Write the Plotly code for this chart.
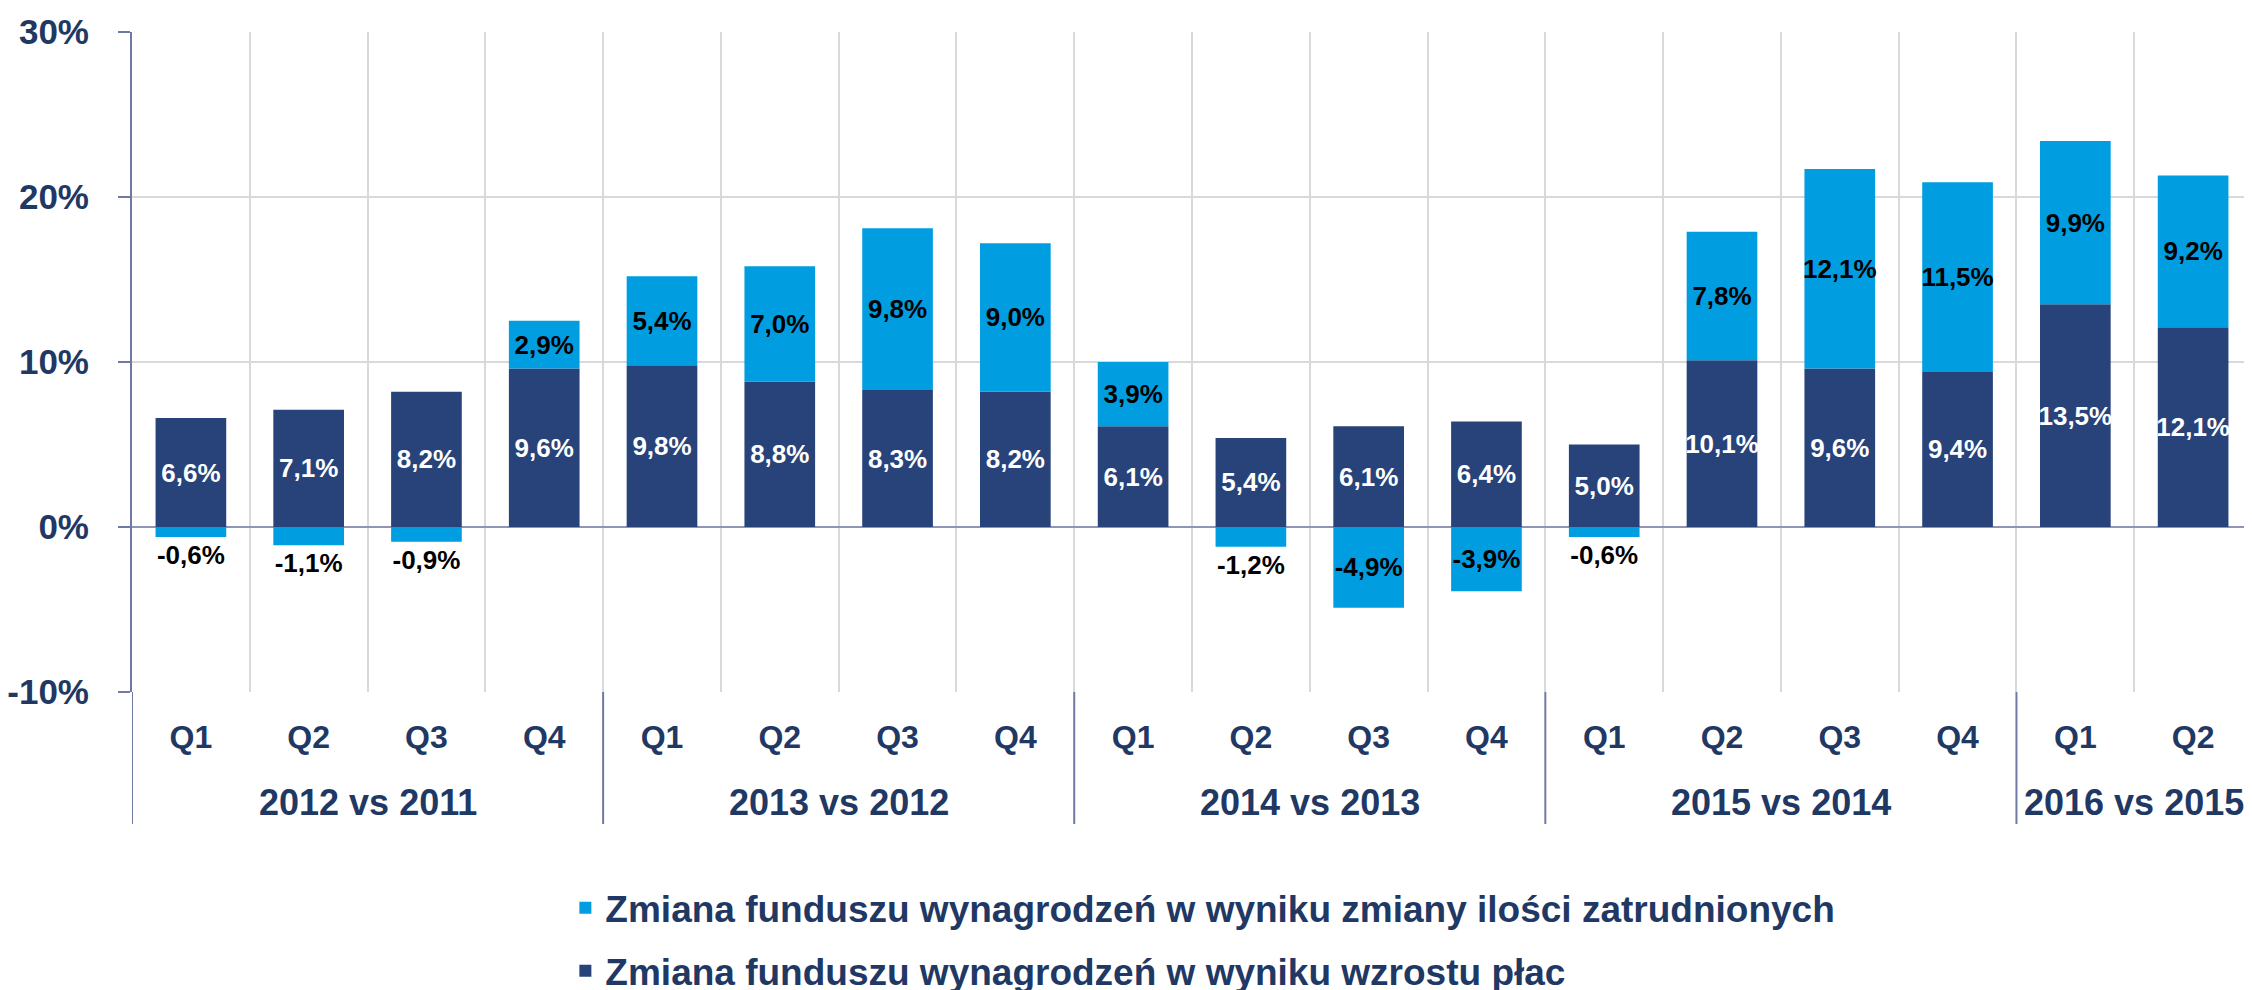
import plotly.graph_objects as go

years = ["2012 vs 2011"] * 4 + ["2013 vs 2012"] * 4 + ["2014 vs 2013"] * 4 + ["2015 vs 2014"] * 4 + ["2016 vs 2015"] * 2
quarters = ["Q1", "Q2", "Q3", "Q4"] * 4 + ["Q1", "Q2"]

wage_growth = [6.6, 7.1, 8.2, 9.6, 9.8, 8.8, 8.3, 8.2, 6.1, 5.4, 6.1, 6.4, 5.0, 10.1, 9.6, 9.4, 13.5, 12.1]
employment_change = [-0.6, -1.1, -0.9, 2.9, 5.4, 7.0, 9.8, 9.0, 3.9, -1.2, -4.9, -3.9, -0.6, 7.8, 12.1, 11.5, 9.9, 9.2]

y_ticks = [-10, 0, 10, 20, 30]

name_wage = "Zmiana funduszu wynagrodzeń w wyniku wzrostu płac"
name_empl = "Zmiana funduszu wynagrodzeń w wyniku zmiany ilości zatrudnionych"

dark = "#27437A"
light = "#009EE0"
navy_text = "#1F3864"
axis_col = "#6E7AA3"
grid_col = "#D9D9D9"
font_family = "Liberation Sans, Arial, sans-serif"


def fmt(v):
    return f"{v:.1f}".replace(".", ",") + "%"


idx = list(range(len(quarters)))

fig = go.Figure()
fig.add_trace(go.Bar(
    x=idx, y=wage_growth, name=name_wage,
    marker=dict(color=dark, line=dict(width=0)),
    text=[fmt(v) for v in wage_growth], textposition="inside",
    insidetextanchor="middle", textangle=0, constraintext="none",
    textfont=dict(family=font_family, size=26, color="white", weight="bold"),
    legendgroup="b", legendrank=2,
))
fig.add_trace(go.Bar(
    x=idx, y=employment_change, name=name_empl,
    marker=dict(color=light, line=dict(width=0)),
    text=[fmt(v) for v in employment_change],
    textposition=["outside" if -2 < v < 0 else "inside" for v in employment_change],
    insidetextanchor="middle", textangle=0, constraintext="none", cliponaxis=False,
    textfont=dict(family=font_family, size=26, color="black", weight="bold"),
    legendgroup="a", legendrank=1,
))

# year group labels and dividers below the quarter labels
groups = []
for i, yr in enumerate(years):
    if not groups or groups[-1][0] != yr:
        groups.append([yr, i, i])
    else:
        groups[-1][2] = i

for yr, first, last in groups:
    fig.add_annotation(
        x=(first + last) / 2, y=-0.167, xref="x", yref="paper",
        text=yr, showarrow=False, yanchor="middle",
        font=dict(family=font_family, size=36, color=navy_text, weight="bold"),
    )
    fig.add_shape(
        type="line", xref="x", yref="paper",
        x0=first - 0.5, x1=first - 0.5, y0=0, y1=-0.2,
        line=dict(color=axis_col, width=2),
    )

# page body has an 8px margin, so the figure is shifted left/up by that much
fig.update_layout(
    barmode="relative",
    bargap=0.4,
    width=2252, height=990,
    paper_bgcolor="white", plot_bgcolor="white",
    font=dict(family=font_family, color=navy_text, size=34, weight="bold"),
    margin=dict(l=124, r=8, t=24, b=306, autoexpand=False),
    legend=dict(
        orientation="v", traceorder="grouped",
        xref="container", yref="container",
        x=0.2475, y=0.122, xanchor="left", yanchor="top",
        font=dict(family=font_family, size=37, color=navy_text, weight="bold"),
        tracegroupgap=12, itemwidth=30,
    ),
    showlegend=True,
)

fig.update_yaxes(
    range=[y_ticks[0], y_ticks[-1]], tickvals=y_ticks,
    ticktext=[f"{t}%" for t in y_ticks],
    showgrid=True, gridcolor=grid_col, gridwidth=2,
    zeroline=True, zerolinecolor="#8E95B5", zerolinewidth=2,
    showline=True, linecolor=axis_col, linewidth=2,
    ticks="outside", ticklen=12, tickcolor=axis_col, tickwidth=2,
    ticklabelstandoff=22,
    tickfont=dict(family=font_family, size=35, color=navy_text, weight="bold"),
)
fig.update_xaxes(
    range=[-0.5, len(idx) - 0.5],
    tickvals=idx, ticktext=quarters,
    showgrid=False, zeroline=False, showline=False, ticks="",
    ticklabelstandoff=23,
    minor=dict(tickvals=[i + 0.5 for i in idx[:-1]], showgrid=True,
               gridcolor=grid_col, gridwidth=2),
    tickfont=dict(family=font_family, size=32, color=navy_text, weight="bold"),
)

fig.write_html("out.html")
